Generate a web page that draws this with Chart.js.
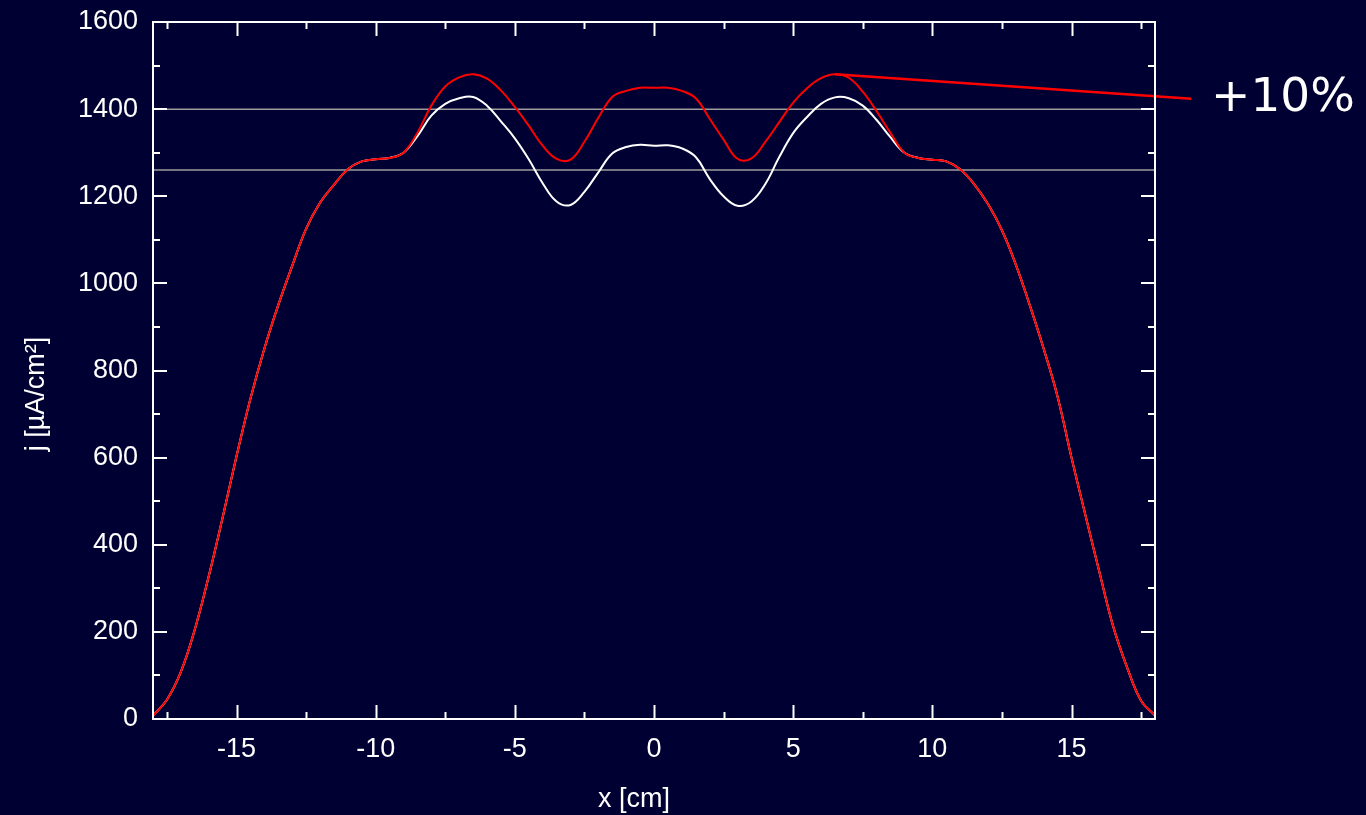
<!DOCTYPE html>
<html>
<head>
<meta charset="utf-8">
<title>Current density profile</title>
<script src="https://cdn.jsdelivr.net/npm/chart.js@4/dist/chart.umd.min.js"></script>
<style>
  html, body { margin: 0; padding: 0; background: #000033; }
  canvas { display: block; }
</style>
</head>
<body>
<canvas id="profileChart" width="1366" height="815"></canvas>
<script>
// positions along the anode, cm
const xPositions = [
  -18, -17.5, -17, -16.5, -16, -15.5, -15, -14.5, -14, -13.5, -13, -12.5,
  -12, -11.5, -11, -10.5, -10, -9.5, -9, -8.5, -8, -7.5, -7, -6.5,
  -6, -5.5, -5, -4.5, -4, -3.5, -3, -2.5, -2, -1.5, -1, -0.5,
  0, 0.5, 1, 1.5, 2, 2.5, 3, 3.5, 4, 4.5, 5, 5.5,
  6, 6.5, 7, 7.5, 8, 8.5, 9, 9.5, 10, 10.5, 11, 11.5,
  12, 12.5, 13, 13.5, 14, 14.5, 15, 15.5, 16, 16.5, 17, 17.5, 18
];

// current density, white curve (uA/cm2)
const baseCurrent = [
  8, 44, 108, 205, 327, 462, 603, 735, 850, 950, 1040, 1125,
  1185, 1226, 1262, 1280, 1285, 1288, 1300, 1338, 1385, 1412, 1425, 1428,
  1408, 1372, 1333, 1285, 1230, 1188, 1180, 1210, 1255, 1298, 1313, 1318,
  1316, 1317, 1310, 1290, 1240, 1200, 1178, 1188, 1228, 1290, 1345, 1382,
  1412, 1427, 1425, 1408, 1375, 1335, 1300, 1288, 1284, 1280, 1262, 1228,
  1182, 1122, 1043, 950, 850, 740, 600, 468, 338, 212, 118, 42, 8
];

// current density, red curve (+10%)
const boostedCurrent = [
  8, 44, 108, 205, 327, 462, 603, 735, 850, 950, 1040, 1125,
  1185, 1226, 1262, 1280, 1285, 1288, 1300, 1346, 1408, 1452, 1473, 1480,
  1470, 1443, 1405, 1362, 1316, 1286, 1284, 1325, 1380, 1428, 1442, 1449,
  1449, 1449, 1442, 1425, 1378, 1330, 1286, 1287, 1325, 1370, 1415, 1448,
  1471, 1480, 1472, 1440, 1395, 1345, 1300, 1288, 1284, 1280, 1262, 1228,
  1182, 1122, 1043, 950, 850, 740, 600, 468, 338, 212, 118, 42, 8
];

const refLevels = [1400, 1260];
const calloutX = [6.5, 19.3];
const calloutY = [1480, 1424];
const calloutText = '+10%';

const xTicks = [-15, -10, -5, 0, 5, 10, 15];
const yTicks = [0, 200, 400, 600, 800, 1000, 1200, 1400, 1600];
const xMinorStep = 2.5;
const yMinorStep = 100;

const xTitle = 'x [cm]';
const yTitle = 'j [µA/cm²]';

const fontFamily = "'Liberation Sans', Arial, Helvetica, sans-serif";

const toPoints = (xs, ys) => xs.map((x, i) => ({ x: x, y: ys[i] }));

// frame, inward ticks on all four sides, axis titles and the callout text
const framePlugin = {
  id: 'framePlugin',
  afterDatasetsDraw(chart) {
    const { ctx, chartArea: a, scales } = chart;
    const xs = scales.x, ys = scales.y;
    ctx.save();
    ctx.strokeStyle = '#ffffff';
    ctx.lineWidth = 2;
    ctx.strokeRect(a.left, a.top, a.right - a.left, a.bottom - a.top);

    ctx.beginPath();
    for (let v = xs.min + 0.5; v < xs.max; v += xMinorStep) {
      const px = Math.round(xs.getPixelForValue(v)) + 0.5;
      const len = (v % 5 === 0) ? 14 : 7;
      ctx.moveTo(px, a.bottom); ctx.lineTo(px, a.bottom - len);
      ctx.moveTo(px, a.top); ctx.lineTo(px, a.top + len);
    }
    for (let v = ys.min + yMinorStep; v < ys.max; v += yMinorStep) {
      const py = Math.round(ys.getPixelForValue(v));
      const len = (v % 200 === 0) ? 14 : 7;
      ctx.moveTo(a.left, py); ctx.lineTo(a.left + len, py);
      ctx.moveTo(a.right, py); ctx.lineTo(a.right - len, py);
    }
    ctx.stroke();

    ctx.fillStyle = '#ffffff';
    ctx.font = '27px ' + fontFamily;
    ctx.textAlign = 'center';
    ctx.textBaseline = 'alphabetic';
    ctx.fillText(xTitle, 634, 807);

    ctx.save();
    ctx.translate(44, 394);
    ctx.rotate(-Math.PI / 2);
    ctx.fillText(yTitle, 0, 0);
    ctx.restore();

    ctx.font = "47px 'DejaVu Sans', Verdana, sans-serif";
    ctx.textAlign = 'left';
    ctx.fillText(calloutText, 1211, 111);
    ctx.restore();
  }
};

new Chart(document.getElementById('profileChart'), {
  type: 'line',
  data: {
    datasets: [
      {
        label: 'callout',
        data: toPoints(calloutX, calloutY),
        borderColor: '#ff0000',
        borderWidth: 2.5,
        pointRadius: 0,
        clip: false,
        order: 0
      },
      {
        label: '+10%',
        data: toPoints(xPositions, boostedCurrent),
        borderColor: '#ff0000',
        borderWidth: 2,
        pointRadius: 0,
        tension: 0.4,
        order: 1
      },
      {
        label: 'j',
        data: toPoints(xPositions, baseCurrent),
        borderColor: '#ffffff',
        borderWidth: 2,
        pointRadius: 0,
        tension: 0.4,
        order: 2
      },
      ...refLevels.map((lvl, i) => ({
        label: 'ref' + i,
        data: [{ x: -18, y: lvl }, { x: 18, y: lvl }],
        borderColor: '#9c9c9c',
        borderWidth: 1.5,
        pointRadius: 0,
        order: 3 + i
      }))
    ]
  },
  options: {
    responsive: false,
    animation: false,
    layout: { padding: { top: 22, right: 211, left: 0, bottom: 0 } },
    plugins: {
      legend: { display: false },
      tooltip: { enabled: false }
    },
    scales: {
      x: {
        type: 'linear',
        min: -18,
        max: 18,
        afterBuildTicks: s => { s.ticks = xTicks.map(v => ({ value: v })); },
        afterFit: s => { s.height = 96; s.paddingLeft = 0; s.paddingRight = 0; },
        grid: { display: false, drawTicks: false },
        border: { display: false },
        ticks: {
          color: '#ffffff',
          padding: 14,
          maxRotation: 0,
          font: { family: fontFamily, size: 27 },
          callback: v => String(v)
        }
      },
      y: {
        type: 'linear',
        min: 0,
        max: 1600,
        afterBuildTicks: s => { s.ticks = yTicks.map(v => ({ value: v })); },
        afterFit: s => { s.width = 153; s.paddingTop = 0; s.paddingBottom = 0; },
        grid: { display: false, drawTicks: false },
        border: { display: false },
        ticks: {
          color: '#ffffff',
          padding: 15,
          font: { family: fontFamily, size: 27 },
          callback: v => String(v)
        }
      }
    }
  },
  plugins: [framePlugin]
});
</script>
</body>
</html>
